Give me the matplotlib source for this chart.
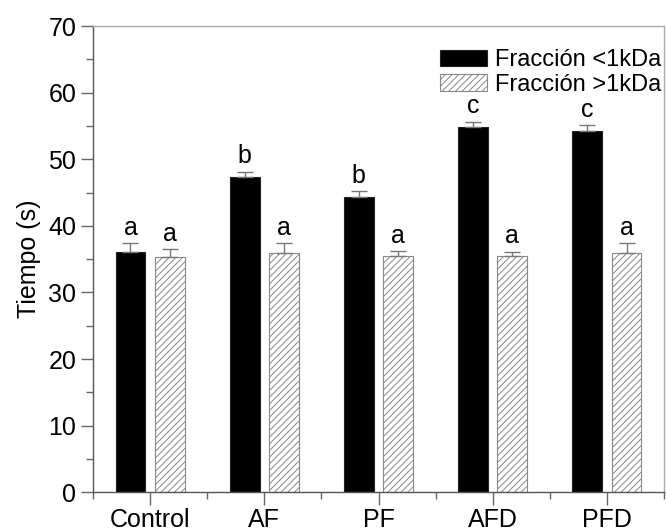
import matplotlib
matplotlib.use("Agg")
import matplotlib.pyplot as plt
import numpy as np

plt.rcParams['font.family'] = ['Liberation Sans', 'DejaVu Sans']
plt.rcParams['hatch.color'] = '#222222'
plt.rcParams['hatch.linewidth'] = 0.7

# data
groups = ['Control', 'AF', 'PF', 'AFD', 'PFD']
menor1 = [36.1, 47.3, 44.4, 54.8, 54.3]
menor1_err = [1.3, 0.8, 0.8, 0.8, 0.8]
mayor1 = [35.3, 35.9, 35.4, 35.4, 35.9]
mayor1_err = [1.2, 1.5, 0.8, 0.7, 1.5]
letras_menor = ['a', 'b', 'b', 'c', 'c']
letras_mayor = ['a', 'a', 'a', 'a', 'a']

fig = plt.figure(figsize=(6.66, 5.28), dpi=100)
ax = fig.add_axes([93 / 666, 1 - 492.3 / 528, 571 / 666, 466.3 / 528])

x = np.arange(len(groups))
w = 0.26
off = 0.172

ax.bar(x - off, menor1, w, color='black', edgecolor='#222222', linewidth=0.8,
       label='Fracción <1kDa')
ax.bar(x + off, mayor1, w, color='white', edgecolor='#888888', linewidth=0.8,
       hatch='/////', label='Fracción >1kDa')

zeros = np.zeros(len(groups))
ax.errorbar(x - off, menor1, yerr=[zeros, menor1_err], fmt='none',
            ecolor='#777777', elinewidth=1, capsize=6, capthick=1)
ax.errorbar(x + off, mayor1, yerr=[zeros, mayor1_err], fmt='none',
            ecolor='#777777', elinewidth=1, capsize=6, capthick=1)

for i in range(len(groups)):
    ax.annotate(letras_menor[i], (x[i] - off, menor1[i] + menor1_err[i]),
                xytext=(0, 2.5), textcoords='offset points', ha='center',
                va='bottom', fontsize=18)
    ax.annotate(letras_mayor[i], (x[i] + off, mayor1[i] + mayor1_err[i]),
                xytext=(0, 2.5), textcoords='offset points', ha='center',
                va='bottom', fontsize=18)

ax.set_xlim(-0.5, 4.5)
ax.set_ylim(0, 70)
ax.set_yticks(range(0, 71, 10))
ax.set_yticks(range(5, 70, 10), minor=True)
ax.set_xticks(x)
ax.set_xticklabels(groups)
ax.set_xticks(np.arange(-0.5, 4.6, 1), minor=True)
ax.tick_params(axis='both', which='major', labelsize=18, length=9,
               width=1, color='#666666', direction='out', pad=3)
ax.tick_params(axis='x', which='major', pad=2)
ax.tick_params(axis='both', which='minor', length=5, width=1,
               color='#666666', direction='out')
ax.set_ylabel('Tiempo (s)', fontsize=18, labelpad=5)

for s in ['left', 'bottom']:
    ax.spines[s].set_color('#555555')
    ax.spines[s].set_linewidth(1.0)
for s in ['top', 'right']:
    ax.spines[s].set_color('#aaaaaa')
    ax.spines[s].set_linewidth(1.0)

leg = ax.legend(loc='upper right', frameon=False, fontsize=17,
                handlelength=2.0, handleheight=0.7, handletextpad=0.35,
                labelspacing=0.1, borderaxespad=0.2,
                bbox_to_anchor=(1.02, 0.98))

fig.savefig('out.png', dpi=100)
